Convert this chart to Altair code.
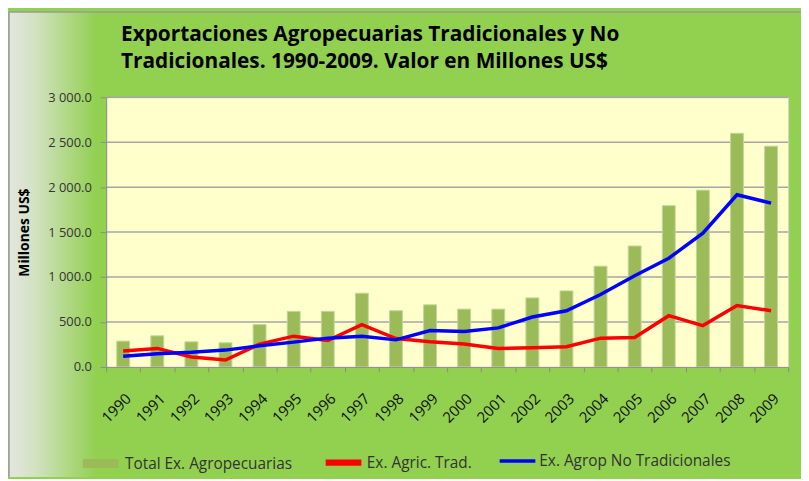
import altair as alt
import pandas as pd

years = ["1990", "1991", "1992", "1993", "1994", "1995", "1996", "1997", "1998", "1999",
         "2000", "2001", "2002", "2003", "2004", "2005", "2006", "2007", "2008", "2009"]
total = [287, 346, 279, 268, 471, 618, 618, 820, 625, 691,
         643, 643, 768, 846, 1121, 1345, 1794, 1967, 2599, 2456]
trad = [176, 206, 110, 77, 254, 342, 294, 471, 316, 279,
        255, 206, 213, 224, 320, 327, 570, 460, 684, 625]
notrad = [118, 147, 162, 187, 235, 276, 320, 342, 301, 404,
          393, 434, 555, 625, 805, 1015, 1209, 1489, 1915, 1823]

series_names = ["Total Ex. Agropecuarias", "Ex. Agric. Trad.", "Ex. Agrop No Tradicionales"]
series_colors = ["#9BBB59", "#FF0000", "#0000FF"]
legend_widths = [9, 3.5, 3.5]
y_ticks = [0, 500, 1000, 1500, 2000, 2500, 3000]
grid_values = [500, 1000, 1500, 2000, 2500, 3000]

title_line1 = "Exportaciones Agropecuarias Tradicionales y No"
title_line2 = "Tradicionales. 1990-2009. Valor en Millones US$"

FONT = "Open Sans"

df = pd.DataFrame({
    "year": years * 3,
    "series": [s for s in series_names for _ in years],
    "value": total + trad + notrad,
})
grid_df = pd.DataFrame({"value": grid_values})
one_df = pd.DataFrame({"a": [0]})

color_scale = alt.Scale(domain=series_names, range=series_colors)
sw_scale = alt.Scale(domain=series_names, range=legend_widths)
y_scale = alt.Scale(domain=[0, 3000], nice=False)
x_scale = alt.Scale(paddingInner=0, paddingOuter=0)

x_axis = alt.Axis(title=None, labelAngle=-45, tickBand="extent", domainColor="#8C8C8C",
                  tickColor="#8C8C8C", tickSize=5, labelFont=FONT, labelFontSize=15,
                  labelColor="#111111", labelPadding=19, zindex=1)
y_axis = alt.Axis(values=y_ticks, labelExpr="replace(format(datum.value, ',.1f'), ',', ' ')",
                  grid=False, domainColor="#8C8C8C", tickColor="#8C8C8C", tickSize=6,
                  labelFont=FONT, labelFontSize=13, labelColor="#333333", labelPadding=9,
                  title="Millones US$", titleFont=FONT, titleFontSize=14, titleFontWeight="bold",
                  titleColor="#000000", titleX=-82, titleBaseline="middle", zindex=1)

legend = alt.Legend(
    title=None, orient="none", direction="horizontal", legendX=-28, legendY=347,
    gridAlign="none", symbolType="stroke", symbolSize=1296, symbolOpacity=1,
    columnPadding=21, labelOffset=2, labelLimit=400, padding=0,
    labelFont=FONT, labelFontSize=15.5, labelColor="#333333")

gradient = alt.LinearGradient(
    gradient="linear", x1=0, x2=1, y1=0, y2=0,
    stops=[alt.GradientStop(color="#E3E6DF", offset=0),
           alt.GradientStop(color="#D2E2C2", offset=0.3),
           alt.GradientStop(color="#AED781", offset=0.7),
           alt.GradientStop(color="#92D050", offset=1)])

left_fade = alt.Chart(one_df).mark_rect(fill=gradient).encode(
    x=alt.value(-98), x2=alt.value(-10), y=alt.value(-86), y2=alt.value(383))

frame_left = alt.Chart(one_df).mark_rule(color="#9A9A9A", strokeWidth=1.5).encode(
    x=alt.value(-98), y=alt.value(-86), y2=alt.value(383))
frame_top = alt.Chart(one_df).mark_rule(color="#9A9A9A", strokeWidth=1.5).encode(
    x=alt.value(-98), x2=alt.value(702), y=alt.value(-86))

title1 = alt.Chart(one_df).mark_text(
    align="left", baseline="alphabetic", font=FONT, fontSize=21, fontWeight="bold", color="#000000"
).encode(x=alt.value(15), y=alt.value(-57), text=alt.value(title_line1))
title2 = alt.Chart(one_df).mark_text(
    align="left", baseline="alphabetic", font=FONT, fontSize=21, fontWeight="bold", color="#000000"
).encode(x=alt.value(15), y=alt.value(-30), text=alt.value(title_line2))

grid = alt.Chart(grid_df).mark_rule(color="#A6A6A6", strokeWidth=1.5).encode(
    y=alt.Y("value:Q", scale=y_scale, axis=y_axis))

bars = alt.Chart(df).transform_filter(
    alt.datum.series == series_names[0]
).mark_bar(size=13, color="#9BBB59", stroke="#C3D69B", strokeWidth=1).encode(
    x=alt.X("year:O", scale=x_scale, axis=x_axis),
    y=alt.Y("value:Q", scale=y_scale, axis=y_axis),
)

lines = alt.Chart(df).transform_filter(
    alt.datum.series != series_names[0]
).mark_line(strokeWidth=3.5).encode(
    x=alt.X("year:O", scale=x_scale, axis=x_axis),
    y=alt.Y("value:Q", scale=y_scale, axis=y_axis),
    color=alt.Color("series:N", scale=color_scale, legend=legend),
)

legend_layer = alt.Chart(df).mark_point(opacity=0, filled=False, shape="stroke").encode(
    x=alt.X("year:O", scale=x_scale, axis=x_axis),
    y=alt.Y("value:Q", scale=y_scale, axis=y_axis),
    color=alt.Color("series:N", scale=color_scale, legend=legend),
    strokeWidth=alt.StrokeWidth("series:N", scale=sw_scale, legend=legend),
)

chart = alt.layer(left_fade, frame_left, frame_top, title1, title2, grid, bars, lines,
                  legend_layer).properties(
    width=688, height=272,
    padding={"left": 99, "top": 88, "right": 13, "bottom": 111},
    autosize=alt.AutoSizeParams(type="none"),
    background="#92D050",
).configure_view(fill="#FFFFCC", stroke="#D0D0D0", strokeWidth=1)

chart.save("out.html", embed_options={"renderer": "svg", "actions": False})
